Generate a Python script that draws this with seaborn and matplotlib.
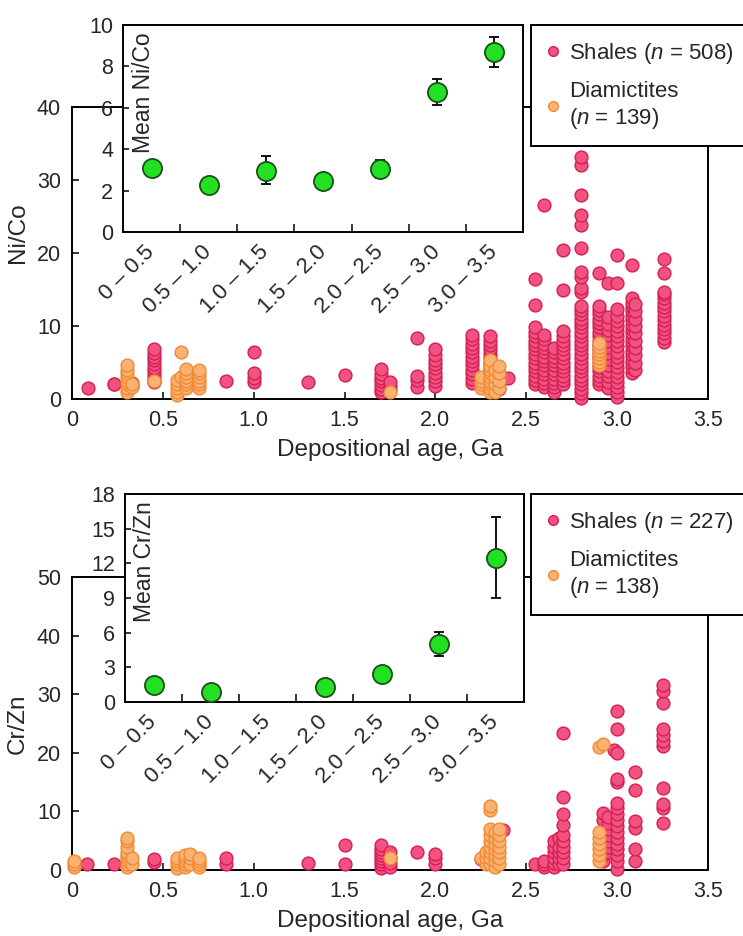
import numpy as np
import pandas as pd
import matplotlib
matplotlib.use("Agg")
import matplotlib.pyplot as plt
import matplotlib.transforms as mtransforms
from matplotlib.lines import Line2D
import seaborn as sns

# ---- main scatter data: (depositional age in Ga, ratio values read in that column) ----
nico_shale_cols = [
    (0.09, [1.5]),
    (0.23, [2.0, 2.1]),
    (0.33, [1.8, 2.2]),
    (0.45, [2.3, 2.8, 3.3, 3.8, 4.3, 4.8, 5.3, 5.8, 6.3, 6.8]),
    (0.85, [2.4]),
    (1.00, [2.3, 2.9, 3.5, 6.4]),
    (1.30, [2.3]),
    (1.50, [3.3]),
    (1.70, [0.9, 1.4, 1.9, 2.4, 2.9, 3.4, 4.1]),
    (1.75, [1.2, 1.8, 2.3]),
    (1.90, [1.7, 2.6, 3.2, 8.4]),
    (2.00, [1.8, 2.4, 3.0, 3.6, 4.2, 4.8, 5.4, 6.0, 6.8]),
    (2.20, [2.2, 2.8, 3.4, 4.0, 4.6, 5.2, 5.8, 6.4, 7.0, 7.6, 8.2, 8.7]),
    (2.30, [2.0, 2.6, 3.2, 3.8, 4.4, 5.0, 5.6, 6.2, 6.8, 7.4, 8.0, 8.6]),
    (2.35, [1.4, 2.2, 3.0]),
    (2.40, [2.9]),
    (2.55, [2.0, 2.6, 3.2, 3.8, 4.4, 5.0, 5.6, 6.2, 6.8, 7.4, 8.0, 8.6, 9.2, 9.8, 12.9, 16.4]),
    (2.60, [1.6, 2.2, 2.8, 3.4, 4.0, 4.6, 5.2, 5.8, 6.4, 7.0, 7.6, 8.2, 8.8, 26.6]),
    (2.65, [1.0, 1.6, 2.2, 2.8, 3.4, 4.0, 4.6, 5.2, 5.8, 6.4, 7.0]),
    (2.70, [2.0, 2.6, 3.2, 3.8, 4.4, 5.0, 5.6, 6.2, 6.8, 7.4, 8.0, 8.6, 9.3, 14.9, 20.4]),
    (2.80, [0.2, 0.8, 1.4, 2.0, 2.6, 3.2, 3.8, 4.4, 5.0, 5.6, 6.2, 6.8, 7.4, 8.0, 8.6,
            9.2, 9.8, 10.4, 11.0, 11.6, 12.2, 12.8, 14.7, 15.2, 16.7, 17.4, 20.7,
            23.8, 25.2, 27.9, 32.0, 33.1]),
    (2.90, [2.0, 2.6, 3.2, 3.8, 4.4, 5.0, 5.6, 6.2, 6.8, 7.4, 8.0, 8.6, 9.2, 9.8,
            10.4, 11.0, 11.6, 12.2, 12.8, 17.3]),
    (2.95, [1.5, 2.3, 3.1, 3.9, 4.7, 5.5, 6.3, 7.1, 7.9, 8.7, 9.5, 10.3, 11.2, 15.9]),
    (3.00, [0.3, 0.9, 1.6, 2.3, 3.0, 3.7, 4.4, 5.1, 5.8, 6.5, 7.2, 7.9, 8.6, 9.3,
            10.0, 10.7, 11.4, 12.3, 15.9, 19.7]),
    (3.08, [3.6, 4.2, 4.8, 5.4, 6.0, 6.6, 7.2, 7.8, 8.4, 9.0, 9.6, 10.2, 10.8,
            11.4, 12.0, 12.6, 13.2, 13.8, 18.4]),
    (3.10, [4.0, 5.0, 6.0, 7.0, 8.0, 9.0, 10.0, 11.0, 12.0, 13.0]),
    (3.26, [7.8, 8.4, 9.0, 9.6, 10.2, 10.8, 11.4, 12.0, 12.6, 13.2, 13.8, 14.4,
            14.7, 17.3, 19.2]),
]
nico_diam_cols = [
    (0.30, [1.0, 1.5, 2.0, 2.5, 3.0, 3.5, 4.0, 4.6]),
    (0.33, [1.6, 2.1]),
    (0.45, [2.5]),
    (0.58, [0.5, 1.0, 1.5, 2.0, 2.6]),
    (0.60, [3.0, 6.4]),
    (0.63, [1.5, 2.0, 2.5, 3.0, 3.5, 4.1]),
    (0.70, [1.5, 2.0, 2.5, 3.0, 3.5, 4.0]),
    (1.75, [1.0]),
    (2.25, [1.5, 2.0, 2.5, 3.0]),
    (2.30, [1.0, 1.5, 2.0, 2.5, 3.0, 3.5, 4.0, 4.5, 5.3]),
    (2.33, [1.0, 2.0, 3.0, 4.0]),
    (2.35, [1.5, 2.5, 3.5, 4.5]),
    (2.90, [4.6, 5.1, 5.6, 6.1, 6.6, 7.1, 7.7]),
]

crzn_shale_cols = [
    (0.08, [1.0]),
    (0.23, [1.0]),
    (0.45, [1.3, 1.8]),
    (0.60, [1.0]),
    (0.85, [1.0, 2.1]),
    (1.30, [1.2]),
    (1.50, [1.0, 4.3]),
    (1.70, [0.3, 1.0, 1.5, 2.0, 2.5, 3.0, 3.6, 4.3]),
    (1.75, [0.5, 1.2, 2.0, 3.0]),
    (1.90, [3.0]),
    (2.00, [1.0, 2.0, 2.7]),
    (2.25, [1.8]),
    (2.37, [6.8]),
    (2.55, [1.0]),
    (2.60, [0.5, 1.0, 1.6]),
    (2.65, [0.5, 1.2, 2.0, 3.0, 4.0, 5.0]),
    (2.68, [1.0, 2.0, 3.0, 4.0, 5.5]),
    (2.70, [1.0, 2.0, 3.0, 4.0, 5.0, 6.0, 7.6, 9.5, 12.4, 23.3]),
    (2.92, [1.5, 2.5, 3.5, 4.5, 5.5, 6.5, 8.5, 9.8]),
    (2.95, [3.0, 4.0, 5.0, 6.0, 7.0, 8.0, 9.0]),
    (2.98, [20.5]),
    (3.00, [0.2, 1.5, 2.5, 3.5, 4.5, 5.5, 6.5, 7.5, 8.5, 9.5, 10.5, 11.5,
            15.0, 15.6, 20.0, 24.0, 27.2]),
    (3.10, [1.5, 3.5, 7.2, 8.3, 13.6, 16.8]),
    (3.25, [8.0, 10.5, 11.2, 14.0, 21.2, 22.0, 23.0, 24.0, 28.5, 30.5, 31.5]),
]
crzn_diam_cols = [
    (0.01, [0.5, 1.0, 1.5]),
    (0.30, [0.5, 1.0, 1.5, 2.0, 2.5, 3.0, 4.0, 5.0, 5.5]),
    (0.33, [1.0, 2.0]),
    (0.58, [0.3, 1.0, 1.5, 2.0]),
    (0.62, [0.5, 1.0, 1.5, 2.0, 2.5]),
    (0.65, [1.0, 2.0, 2.7]),
    (0.70, [0.5, 1.0, 1.5, 2.0]),
    (1.75, [2.0]),
    (2.25, [2.0]),
    (2.28, [1.0, 2.0, 3.0]),
    (2.30, [1.0, 2.0, 3.0, 4.0, 5.0, 6.0, 7.0, 10.3, 11.0]),
    (2.33, [0.5, 1.5, 2.5, 3.5, 4.5, 5.5, 6.5]),
    (2.35, [1.0, 2.0, 3.0, 4.0, 5.0, 6.0, 7.0]),
    (2.90, [1.5, 2.5, 3.5, 4.5, 5.5, 6.5, 21.0]),
    (2.92, [21.5]),
]

# ---- inset data: mean per age bin with error bar limits ----
age_bins = ["0 – 0.5", "0.5 – 1.0", "1.0 – 1.5", "1.5 – 2.0",
            "2.0 – 2.5", "2.5 – 3.0", "3.0 – 3.5"]
nico_mean = [3.1, 2.27, 2.95, 2.46, 3.05, 6.75, 8.68]
nico_lo = [np.nan, np.nan, 2.3, np.nan, 2.6, 6.15, 7.95]
nico_hi = [np.nan, np.nan, 3.65, np.nan, 3.5, 7.4, 9.4]
crzn_mean = [1.45, 0.85, np.nan, 1.3, 2.4, 5.0, 12.5]
crzn_lo = [np.nan, np.nan, np.nan, np.nan, np.nan, 4.0, 9.0]
crzn_hi = [np.nan, np.nan, np.nan, np.nan, np.nan, 6.05, 16.0]

PINK, PINK_EDGE = "#f2527f", "#d41f55"
ORANGE, ORANGE_EDGE = "#f9b271", "#f28a35"
GREEN, GREEN_EDGE = "#22e022", "#1b4f1b"


def expand(cols):
    rows = [(age, v) for age, vals in cols for v in vals]
    return pd.DataFrame(rows, columns=["age", "value"])


def style_spines(ax):
    for sp in ax.spines.values():
        sp.set_visible(True)
        sp.set_color("black")
        sp.set_linewidth(1.4)


def draw_main(ax, shale, diam, ymax, ylabel, label_y):
    sns.scatterplot(data=shale, x="age", y="value", ax=ax, color=PINK,
                    edgecolor=PINK_EDGE, linewidth=1.0, s=85, legend=False,
                    clip_on=False, zorder=3)
    sns.scatterplot(data=diam, x="age", y="value", ax=ax, color=ORANGE,
                    edgecolor=ORANGE_EDGE, linewidth=1.0, s=85, legend=False,
                    clip_on=False, zorder=4)
    ax.set_xlim(0, 3.5)
    ax.set_ylim(0, ymax)
    ax.set_xticks([0, 0.5, 1.0, 1.5, 2.0, 2.5, 3.0, 3.5],
                  ["0", "0.5", "1.0", "1.5", "2.0", "2.5", "3.0", "3.5"])
    ax.set_yticks(np.arange(0, ymax + 1, 10))
    ax.set_xlabel("Depositional age, Ga", fontsize=17.5, labelpad=6)
    ax.set_ylabel(ylabel, fontsize=17.5)
    ax.yaxis.set_label_coords(-0.068, label_y)
    ax.tick_params(direction="in", length=5, width=1.3, labelsize=15.5,
                   pad=8, top=False, right=False)
    style_spines(ax)


def draw_inset(ax, mean, lo, hi, ymax, ystep, label):
    mean, lo, hi = np.array(mean), np.array(lo), np.array(hi)
    pos = np.arange(len(age_bins))
    ok = ~np.isnan(lo)
    ax.errorbar(pos[ok], mean[ok], yerr=[mean[ok] - lo[ok], hi[ok] - mean[ok]],
                fmt="none", ecolor="black", elinewidth=1.3, capsize=3.5,
                capthick=1.3, zorder=2)
    df = pd.DataFrame({"pos": pos, "mean": mean}).dropna()
    sns.scatterplot(data=df, x="pos", y="mean", ax=ax, color=GREEN,
                    edgecolor=GREEN_EDGE, linewidth=1.3, s=190, legend=False,
                    zorder=3)
    ax.set_facecolor("white")
    ax.set_xlim(-0.5, 6.5)
    ax.set_ylim(0, ymax)
    ax.set_yticks(np.arange(0, ymax + 0.1, ystep))
    ax.set_xticks(pos, age_bins, rotation=45, ha="right",
                  rotation_mode="anchor", va="center")
    shift = mtransforms.ScaledTranslation(6 / 100, 3 / 100, ax.figure.dpi_scale_trans)
    for lab in ax.get_xticklabels():
        lab.set_transform(lab.get_transform() + shift)
    ax.set_xticks(pos[:-1] + 0.5, minor=True)
    ax.tick_params(axis="x", which="major", length=0, pad=12, labelsize=16)
    ax.tick_params(axis="x", which="minor", direction="in", length=6, width=1.3)
    ax.tick_params(axis="y", direction="in", length=4, width=1.3, pad=7,
                   labelsize=15.5)
    ax.set_xlabel("")
    ax.set_ylabel("")
    ax.text(0.05, 0.965, label, transform=ax.transAxes, rotation=90,
            ha="center", va="top", fontsize=16.5)
    style_spines(ax)


def add_legend(fig, n_shale, n_diam, top_px):
    handles = [
        Line2D([], [], ls="none", marker="o", markersize=7, color=PINK,
               markeredgecolor=PINK_EDGE),
        Line2D([], [], ls="none", marker="o", markersize=7, color=ORANGE,
               markeredgecolor=ORANGE_EDGE),
    ]
    labels = [f"Shales ($\\it{{n}}$ = {n_shale})",
              f"Diamictites\n($\\it{{n}}$ = {n_diam})"]
    leg = fig.legend(handles, labels, loc="upper left",
                     bbox_to_anchor=(531 / 743, 1 - top_px / 936),
                     frameon=True, fancybox=False, edgecolor="black",
                     fontsize=16, handlelength=0.6, handletextpad=0.4,
                     borderpad=0.7, labelspacing=0.7, borderaxespad=0)
    leg.get_frame().set_linewidth(1.4)
    leg.get_frame().set_alpha(1)


sns.set_style("ticks")
plt.rcParams["font.family"] = ["Liberation Sans", "DejaVu Sans"]
plt.rcParams["mathtext.fontset"] = "custom"
plt.rcParams["mathtext.it"] = "Liberation Sans:italic"
plt.rcParams["mathtext.rm"] = "Liberation Sans"

W, H = 743, 936
fig = plt.figure(figsize=(W / 100, H / 100), dpi=100)


def rect(left, top, right, bottom):
    return [left / W, 1 - bottom / H, (right - left) / W, (bottom - top) / H]


ax_top = fig.add_axes(rect(72, 107, 708, 399))
draw_main(ax_top, expand(nico_shale_cols), expand(nico_diam_cols), 40, "Ni/Co", 0.57)
in_top = fig.add_axes(rect(123, 25, 523, 232))
draw_inset(in_top, nico_mean, nico_lo, nico_hi, 10, 2, "Mean Ni/Co")
add_legend(fig, 508, 139, 25)

ax_bot = fig.add_axes(rect(72, 577, 708, 870))
draw_main(ax_bot, expand(crzn_shale_cols), expand(crzn_diam_cols), 50, "Cr/Zn", 0.5)
in_bot = fig.add_axes(rect(125, 494, 524, 702))
draw_inset(in_bot, crzn_mean, crzn_lo, crzn_hi, 18, 3, "Mean Cr/Zn")
add_legend(fig, 227, 138, 494)

fig.savefig("out.png", dpi=100)
